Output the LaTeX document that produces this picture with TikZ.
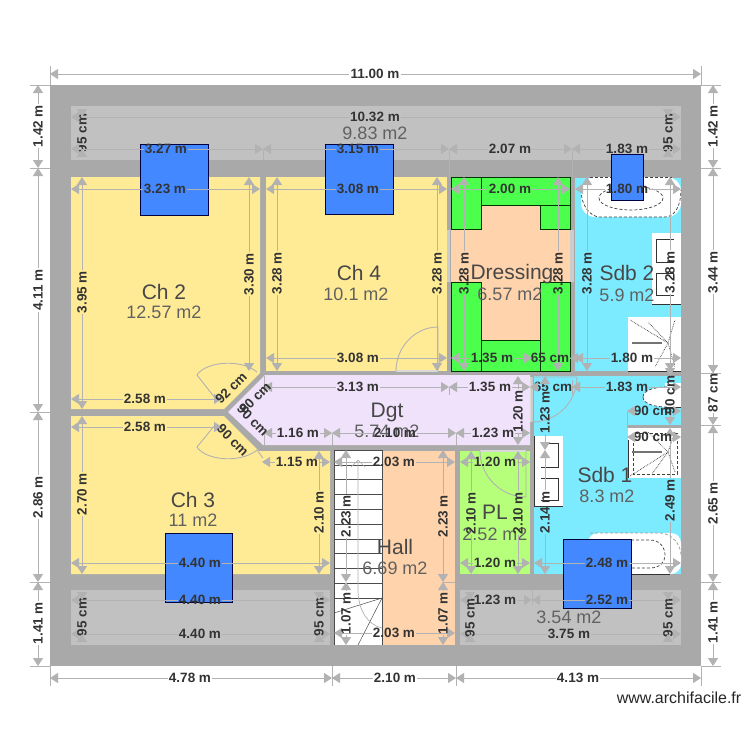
\documentclass[tikz,border=0pt]{standalone}
\usepackage{fontspec}
\setmainfont{Liberation Sans}
\usetikzlibrary{arrows.meta}
\definecolor{wallc}{HTML}{A9A9A9}
\definecolor{stripc}{HTML}{C1C1C1}
\definecolor{yellowc}{HTML}{FFEB96}
\definecolor{cyanc}{HTML}{7DEBFF}
\definecolor{lilacc}{HTML}{F0E2FA}
\definecolor{peachc}{HTML}{FFD3AB}
\definecolor{limec}{HTML}{B6FF7A}
\definecolor{greenc}{HTML}{4DFF4D}
\definecolor{bluec}{HTML}{4488FF}
\definecolor{dimc}{HTML}{B2B2B2}
\definecolor{dimtxt}{HTML}{333333}
\tikzset{
  dimline/.style={draw=dimc,line width=1pt},
  tipS/.style={dimline,{Triangle[length=8pt,width=10pt,fill=dimc]}-},
  tipE/.style={dimline,-{Triangle[length=8pt,width=10pt,fill=dimc]}},
  dimt/.style={font=\fontsize{13.5}{14}\selectfont\bfseries,text=dimtxt,inner sep=1pt},
  dimtv/.style={dimt,rotate=90},
  rname/.style={font=\fontsize{21}{22}\selectfont,text=black!72,inner sep=0pt},
  rarea/.style={font=\fontsize{18}{19}\selectfont,text=black!62,inner sep=0pt},
  green block/.style={fill=greenc,draw=black!80!green,line width=1pt},
  blue block/.style={fill=bluec,draw=black!75!blue,line width=1pt},
  door/.style={draw=black!30,line width=0.9pt},
  fixt/.style={draw=black!75,line width=0.7pt,densely dashed},
  tread/.style={draw=black!70,line width=0.8pt},
  sink/.style={draw=black!80,line width=1pt}
}
\newcommand\dimH[5]{%
  \node[dimt] (t) at (#5,#3) {#4};
  \draw[tipS] (#1,#3) -- (t.west);
  \draw[tipE] (t.east) -- (#2,#3);}
\newcommand\dimV[5]{%
  \node[dimtv] (t) at (#1,#5) {#4};
  \draw[tipS] (#1,#2) -- (t.east);
  \draw[tipE] (t.west) -- (#1,#3);}
\begin{document}
\begin{tikzpicture}[x=1pt,y=-1pt]
\useasboundingbox (0,0) rectangle (750,750);
\fill[white] (0,0) rectangle (750,750);
% shell
\fill[wallc] (50,85) rectangle (701,666);
\fill[stripc] (71,106) rectangle (681,160);
\fill[stripc] (71,590) rectangle (330,645);
\fill[stripc] (460,590) rectangle (681,645);
% rooms
\fill[yellowc] (71,177) -- (260,177) -- (260,373) -- (224,409) -- (71,409) -- cycle;
\fill[yellowc] (266,177) rectangle (447,371);
\fill[yellowc] (71,416) -- (224,416) -- (259,451) -- (330,451) -- (330,574) -- (71,574) -- cycle;
\fill[lilacc] (265,375) -- (530,375) -- (530,445) -- (263,445) -- (228,412) -- cycle;
\fill[peachc] (451,177) rectangle (570,371);
\fill[cyanc] (575,178) rectangle (681,371);
\fill[cyanc] (534,376) rectangle (681,574);
\fill[peachc] (382,451) rectangle (455,645);
\fill[limec] (460,451) rectangle (530,574);
\fill[wallc] (627,425) rectangle (681,428);
% pale door openings
\fill[black!20] (447,230) rectangle (450,282);
\fill[black!20] (570,230) rectangle (574,282);
\fill[black!15] (396,370) rectangle (438,372);
\fill[black!15] (480,450) rectangle (526,452);
\fill[black!15] (530,377) rectangle (533,422);
% stairs
\fill[white] (334,450) rectangle (382,645);
\draw[tread] (334,450) -- (382,450) -- (382,645) (334,450) -- (334,645);
\foreach \yy in {465,479,494,509,524,539,553,568,583,598}
  \draw[tread] (334,\yy) -- (382,\yy);
\draw[tread,line width=0.5pt] (382,598) -- (334,613) (382,598) -- (358,645);
\draw[door,line width=0.7pt] (358,460) -- (358,590) .. controls (358,610) and (368,625) .. (382,628);
\draw[door,line width=0.7pt] (351,467) -- (358,460) -- (365,467);
% dressing
\draw[green block] (451,177) -- (570,177) -- (570,229) -- (540,229) -- (540,205) -- (481,205) -- (481,229) -- (451,229) -- cycle;
\draw[green block] (540,205) -- (570,205);
\draw[green block] (481,177) -- (481,205);
\draw[green block] (451,282) -- (481,282) -- (481,340) -- (540,340) -- (540,282) -- (570,282) -- (570,371) -- (451,371) -- cycle;
\draw[green block] (481,340) -- (481,371) (540,340) -- (540,371);
% Sdb 2 fixtures
\fill[white,rounded corners=14pt] (581,177) rectangle (681,217);
\draw[fixt] (581,190) .. controls (581,205) and (590,217) .. (600,217) -- (665,217) .. controls (675,217) and (681,205) .. (681,190);
\draw[fixt] (590,177) -- (672,177);
\draw[fixt] (631,198) ellipse [x radius=32,y radius=12];
\fill[white] (652,233) rectangle (681,304);
\draw[sink] (674,239) -- (656,239) -- (656,262) -- (674,262) (674,273) -- (656,273) -- (656,295) -- (674,295);
\draw[sink] (652,304) -- (681,304);
\fill[white] (628,317) rectangle (681,371);
\draw[sink] (628,371) -- (681,371);
\draw[black!80,densely dotted,line width=0.7pt] (668,343) -- (630,320) (668,343) -- (648,322) (668,343) -- (655,367) (668,343) -- (675,320) (668,343) -- (675,367);
\draw[black!55,line width=1.5pt] (632,343) -- (662,343);
% Sdb 1 fixtures
\fill[white] (665,383) rectangle (681,407);
\fill[white] (643,397) .. controls (643,390) and (655,387) .. (667,387) -- (667,407) .. controls (655,407) and (643,404) .. (643,397);
\draw[fixt] (643,397) .. controls (643,390) and (655,387) .. (667,387) (643,397) .. controls (643,404) and (655,407) .. (667,407);
\draw[sink] (665,407) -- (681,407);
\fill[white] (628,428) rectangle (681,478);
\draw[fixt] (633,433) rectangle (677,474);
\draw[sink] (628,440) -- (628,478);
\draw[black!80,densely dotted,line width=0.7pt] (668,452) -- (630,476) (668,452) -- (648,432) (668,452) -- (652,474) (668,452) -- (675,432) (668,452) -- (675,472);
\draw[black!55,line width=1.5pt] (632,452) -- (662,452);
\fill[white] (534,436) rectangle (563,507);
\draw[sink] (534,436) -- (534,506) -- (563,506);
\draw[sink] (541,443) -- (558,443) -- (558,467) -- (541,467) (541,478) -- (558,478) -- (558,500) -- (541,500);
\fill[white,rounded corners=10pt] (588,533) rectangle (681,574);
\draw[fixt,draw=black!40] (590,533) -- (660,533) .. controls (672,533) and (681,545) .. (681,555);
\draw[black!80,line width=1pt] (590,574) -- (670,574);
\draw[fixt] (631,540) -- (650,540) .. controls (660,540) and (665,548) .. (665,555) .. controls (665,562) and (660,568) .. (650,568) -- (631,568);
% chimneys / windows
\draw[blue block] (140,144) rectangle (208,215);
\draw[blue block] (325,144) rectangle (393,214);
\draw[blue block] (611,154) rectangle (643,200);
\draw[blue block] (165,533) rectangle (232,602);
\draw[blue block] (563,539) rectangle (631,608);
% doors
\draw[door] (396,371) .. controls (396,347) and (415,327) .. (438,327) -- (438,371);
\draw[door] (480,451) .. controls (480,476) and (501,497) .. (526,497) -- (526,451);
\draw[door] (532,422) .. controls (557,422) and (577,402) .. (577,377) -- (532,377) -- cycle;
\draw[door] (215,398) -- (197,375) .. controls (205,362) and (240,358) .. (257,372);
\draw[door] (215,425) -- (197,447) .. controls (205,460) and (240,464) .. (257,450) -- (263,458);
\draw[door] (627,412) -- (627,428);
% room labels
\node[rname] (n1) at (164,292) {Ch 2};
\node[rarea] (a1) at (164,312) {12.57 m2};
\node[rname] (n2) at (359,273) {Ch 4};
\node[rarea] (a2) at (356,294) {10.1 m2};
\node[rname] (n3) at (512,274) {Dressing};
\node[rarea] (a3) at (510,294) {6.57 m2};
\node[rname] (n4) at (627,273) {Sdb 2};
\node[rarea] (a4) at (627,295) {5.9 m2};
\node[rname] (n5) at (387,412) {Dgt};
\node[rarea] (a5) at (387,431) {5.74 m2};
\node[rname] (n6) at (193,500) {Ch 3};
\node[rarea] (a6) at (193,520) {11 m2};
\node[rname] (n7) at (395,547) {Hall};
\node[rarea] (a7) at (395,568) {6.69 m2};
\node[rname] (n8) at (605,475) {Sdb 1};
\node[rarea] (a8) at (607,496) {8.3 m2};
\node[rname] (n9) at (495,512) {PL};
\node[rarea] (a9) at (495,534) {2.52 m2};
\node[rarea] (a10) at (375,133) {9.83 m2};
\node[rarea] (a11) at (569,617) {3.54 m2};
% extension ticks
\draw[dimline] (50,66) -- (50,85) (701,66) -- (701,85);
\draw[dimline] (30,168) -- (50,168) (30,412) -- (50,412) (30,582) -- (50,582) (30,85) -- (50,85) (30,666) -- (50,666);
\draw[dimline] (701,168) -- (721,168) (701,373) -- (721,373) (701,425) -- (721,425) (701,582) -- (721,582) (701,85) -- (721,85) (701,666) -- (721,666);
\draw[dimline] (50,666) -- (50,686) (332,666) -- (332,686) (456,666) -- (456,686) (701,666) -- (701,686);
\draw[dimline] (263,149) -- (263,160) (449,149) -- (449,177) (572,149) -- (572,177);
\draw[dimline] (449,387) -- (449,395) (572,380) -- (572,395) (332,433) -- (332,445) (456,433) -- (456,445) (532,590) -- (532,605) (264,376) -- (264,395) (264,433) -- (264,445);
\draw[dimline] (443,582) -- (455,582);
% outer dimensions
\dimH{50}{701}{74}{11.00 m}{375}
\dimV{38}{85}{168}{1.42 m}{126}
\dimV{38}{168}{412}{4.11 m}{290}
\dimV{38}{412}{582}{2.86 m}{497}
\dimV{38}{582}{666}{1.41 m}{623}
\dimV{713}{85}{168}{1.42 m}{126}
\dimV{713}{168}{373}{3.44 m}{272}
\dimV{713}{373}{425}{87 cm}{393}
\dimV{713}{425}{582}{2.65 m}{503}
\dimV{713}{582}{666}{1.41 m}{622}
\dimH{50}{332}{678}{4.78 m}{190}
\dimH{332}{456}{678}{2.10 m}{395}
\dimH{456}{701}{678}{4.13 m}{578}
% top strip
\dimH{71}{681}{117}{10.32 m}{375}
\dimV{82}{117}{149}{95 cm}{133}
\dimV{668}{117}{149}{95 cm}{133}
\dimH{71}{263}{149}{3.27 m}{166}
\dimH{263}{449}{149}{3.15 m}{358}
\dimH{449}{572}{149}{2.07 m}{510}
\dimH{572}{681}{149}{1.83 m}{627}
% Ch 2
\dimH{71}{260}{189}{3.23 m}{165}
\dimV{82}{177}{409}{3.95 m}{292}
\dimV{249}{177}{371}{3.30 m}{274}
\dimH{71}{222}{399}{2.58 m}{145}
% Ch 4
\dimH{266}{447}{189}{3.08 m}{358}
\dimH{266}{447}{358}{3.08 m}{358}
\dimV{277}{177}{371}{3.28 m}{273}
\dimV{437}{177}{371}{3.28 m}{273}
% Dressing
\dimH{451}{570}{189}{2.00 m}{510}
\dimV{464}{177}{371}{3.28 m}{273}
\dimV{558}{177}{371}{3.28 m}{273}
\dimH{451}{532}{358}{1.35 m}{492}
\dimH{532}{570}{358}{65 cm}{550}
% Sdb 2
\dimH{575}{681}{189}{1.80 m}{627}
\dimH{575}{681}{358}{1.80 m}{632}
\dimV{587}{177}{371}{3.28 m}{273}
\dimV{670}{177}{371}{3.28 m}{272}
% Dgt
\dimH{264}{449}{387}{3.13 m}{358}
\dimH{449}{530}{387}{1.35 m}{490}
\dimH{530}{572}{387}{65 cm}{553}
\dimH{572}{681}{387}{1.83 m}{627}
\dimH{264}{332}{433}{1.16 m}{298}
\dimH{332}{456}{433}{2.10 m}{395}
\dimH{456}{530}{433}{1.23 m}{493}
\dimV{518}{376}{445}{1.20 m}{411}
\dimV{545}{376}{450}{1.23 m}{412}
% Ch 3
\dimH{71}{222}{427}{2.58 m}{145}
\dimH{262}{330}{462}{1.15 m}{297}
\dimV{82}{416}{574}{2.70 m}{494}
\dimV{319}{451}{574}{2.10 m}{512}
\dimH{71}{330}{563}{4.40 m}{200}
\dimH{71}{330}{600}{4.40 m}{200}
\dimH{71}{330}{634}{4.40 m}{200}
\dimV{82}{600}{634}{95 cm}{617}
\dimV{319}{600}{634}{95 cm}{617}
% stairs and hall
\dimH{334}{455}{462}{2.03 m}{394}
\dimH{334}{455}{633}{2.03 m}{394}
\dimV{346}{450}{582}{2.23 m}{516}
\dimV{443}{450}{582}{2.23 m}{516}
\dimV{346}{582}{645}{1.07 m}{613}
\dimV{443}{582}{645}{1.07 m}{613}
% PL
\dimH{460}{530}{462}{1.20 m}{495}
\dimH{460}{530}{563}{1.20 m}{495}
\dimV{471}{451}{574}{2.10 m}{513}
\dimV{518}{451}{574}{2.10 m}{513}
% Sdb 1
\dimV{545}{450}{574}{2.14 m}{512}
\dimH{534}{681}{563}{2.48 m}{607}
\dimH{532}{681}{600}{2.52 m}{607}
\dimH{460}{532}{600}{1.23 m}{495}
\dimH{460}{681}{634}{3.75 m}{569}
\dimV{470}{600}{634}{95 cm}{618}
\dimV{668}{600}{634}{95 cm}{618}
\dimV{670}{428}{574}{2.49 m}{500}
\dimH{627}{681}{411}{90 cm}{653}
\dimH{627}{681}{437}{90 cm}{653}
\dimV{670}{376}{425}{90 cm}{395}
% diagonal labels
\node[dimt,rotate=45] (d1) at (231,388) {92 cm};
\node[dimt,rotate=45] (d2) at (255,398) {80 cm};
\node[dimt,rotate=-45] (d3) at (253,420) {90 cm};
\node[dimt,rotate=-45] (d4) at (233,440) {90 cm};
% watermark
\node[font=\fontsize{16}{17}\selectfont,text=black!85,inner sep=0pt] (w) at (679,698) {www.archifacile.fr};
\end{tikzpicture}
\end{document}
